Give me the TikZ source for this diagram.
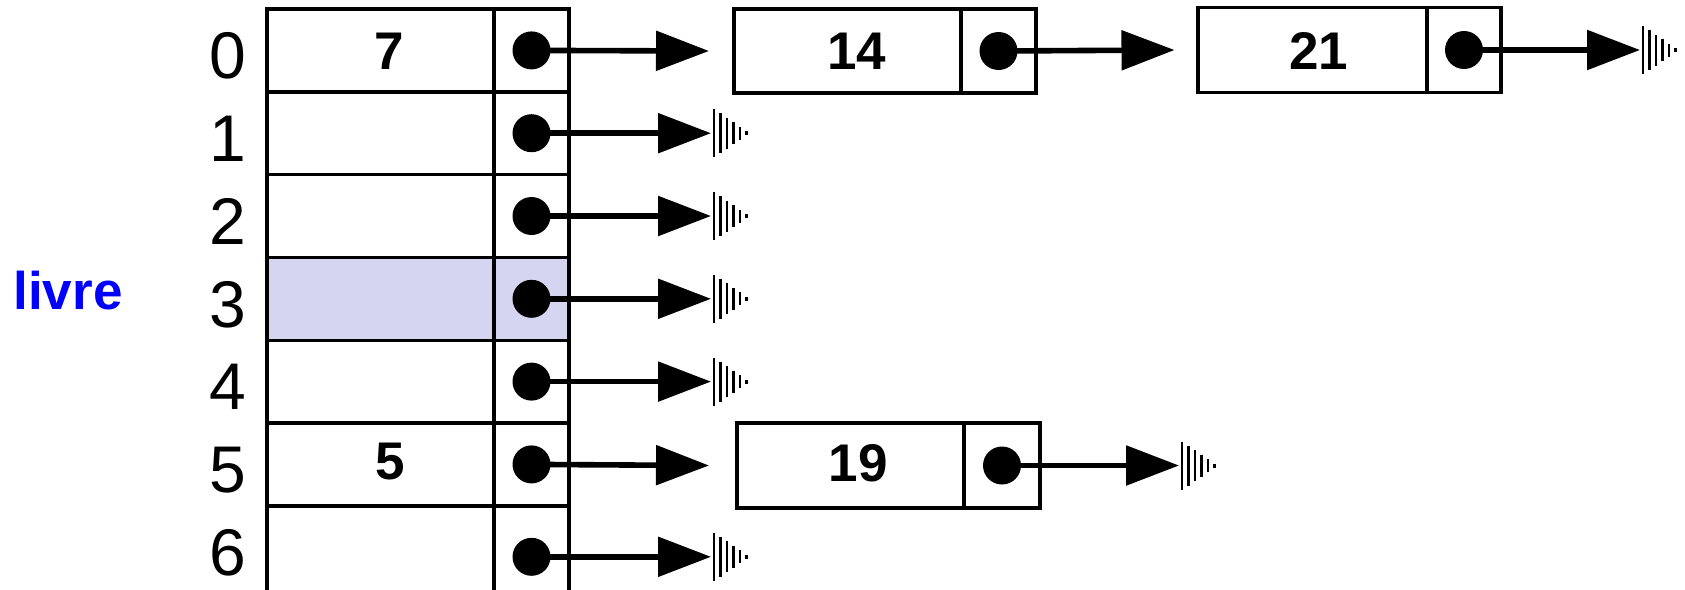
\documentclass[tikz,border=0pt]{standalone}
\usepackage{fontspec}
\setmainfont{Liberation Sans}
\usetikzlibrary{arrows.meta}
\definecolor{hl}{RGB}{213,213,242}
\begin{document}
\begin{tikzpicture}[x=0.5pt,y=-0.5pt,
  cell/.style={draw,line width=1.7pt,inner sep=0,outer sep=0},
  dot/.style={circle,fill,inner sep=0,minimum size=19pt},
  ptr/.style={line width=2.8pt,-{Triangle[length=26.5pt,width=19.5pt]}},
  idx/.style={inner sep=0,font=\fontsize{33pt}{36pt}\selectfont},
  val/.style={inner sep=0,font=\fontsize{26.5pt}{30pt}\selectfont\bfseries},
  nullsym/.pic={
    \foreach \dx/\h in {3/24,9.5/20,16/15.5,22.5/11,29/6.5,35.5/2}
      \draw[line width=1.4pt] (\dx,-\h) -- (\dx,\h);
  }]
\useasboundingbox (0,0) rectangle (1685,589);
\clip (0,0) rectangle (1685,589);
% table
\foreach \i/\f in {0/white,1/white,2/white,3/hl,4/white,5/white}{
  \node[cell,fill=\f,minimum width=113.5pt,minimum height=41.4pt] (v\i) at (380.5,{50.4+82.8*\i}) {};
  \node[cell,fill=\f,minimum width=37.5pt,minimum height=41.4pt] (p\i) at (531.5,{50.4+82.8*\i}) {};
}
\node[cell,minimum width=113.5pt,minimum height=51pt] (v6) at (380.5,556.8) {};
\node[cell,minimum width=37.5pt,minimum height=51pt] (p6) at (531.5,556.8) {};
% index labels
\foreach \i in {0,...,6}
  \node[idx] (i\i) at (228,{56+82.8*\i}) {\i};
\node[val,text=blue] (livre) at (68,291) {livre};
% list boxes
\node[cell,minimum width=113.5pt,minimum height=42pt] (b14v) at (847.5,51) {};
\node[cell,minimum width=37.5pt,minimum height=42pt] (b14p) at (998.5,51) {};
\node[cell,minimum width=114.5pt,minimum height=42.5pt] (b21v) at (1312.5,50) {};
\node[cell,minimum width=37pt,minimum height=42.5pt] (b21p) at (1464,50) {};
\node[cell,minimum width=113.5pt,minimum height=42.5pt] (b19v) at (850.5,465.5) {};
\node[cell,minimum width=38pt,minimum height=42.5pt] (b19p) at (1002,465.5) {};
% values
\node[val] (x7) at (389,51) {7};
\node[val] (x5) at (390,462) {5};
\node[val] (x14) at (856.5,51) {14};
\node[val] (x21) at (1318.5,50.5) {21};
\node[val] (x19) at (858,463) {19};
% dots
\foreach \i in {0,...,6}
  \node[dot] (d\i) at (p\i.center) {};
\node[dot] (d14) at (b14p.center) {};
\node[dot] (d21) at (b21p.center) {};
\node[dot] (d19) at (b19p.center) {};
% pointer targets
\path (b14v.west) ++(-25,0) coordinate (t0);
\path (b19v.west) ++(-28,0) coordinate (t5);
\path (b21v.west) ++(-23.5,0) coordinate (t14);
\path (d21.center) ++(176,0) coordinate (n21);
\path (d19.center) ++(177,0) coordinate (n19);
\foreach \i in {1,2,3,4,6}
  \path (d\i.center) ++(179.5,0) coordinate (n\i);
% arrows
\draw[ptr] (d0.center) -- (t0);
\draw[ptr] (d5.center) -- (t5);
\draw[ptr] (d14.center) -- (t14);
\draw[ptr] (d21.center) -- (n21);
\draw[ptr] (d19.center) -- (n19);
\foreach \i in {1,2,3,4,6}
  \draw[ptr] (d\i.center) -- (n\i);
% null symbols
\pic at (n21) {nullsym};
\pic at (n19) {nullsym};
\foreach \i in {1,2,3,4,6}
  \pic at (n\i) {nullsym};
\end{tikzpicture}
\end{document}
